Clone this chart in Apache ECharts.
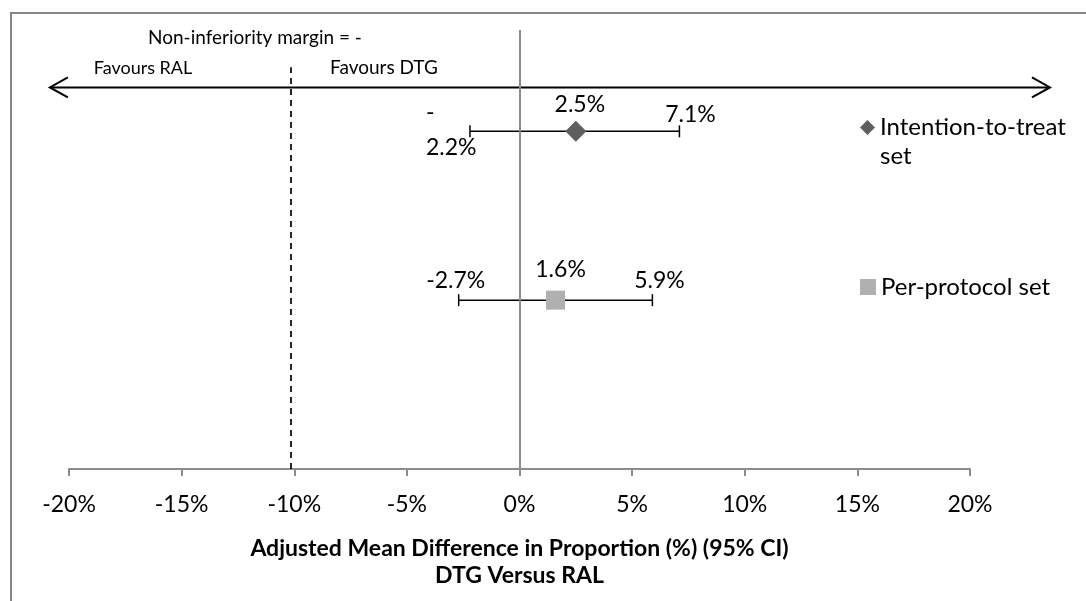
<!DOCTYPE html>
<html>
<head>
<meta charset="utf-8">
<script src="https://cdn.jsdelivr.net/npm/echarts@6/dist/echarts.min.js"></script>
<style>
html,body{margin:0;padding:0;background:#fff;}
#chart{width:1086px;height:601px;}
</style>
</head>
<body>
<div id="chart"></div>
<script>
// ---- data ----
const seriesNames = ['Intention-to-treat set', 'Per-protocol set'];
const rowPos = [2, 1];                 // vertical row of each estimate
const estimates = [2.5, 1.6];          // adjusted mean difference (%)
const ciLow = [-2.2, -2.7];            // lower 95% CI
const ciHigh = [7.1, 5.9];             // upper 95% CI
const xTicks = [-20, -15, -10, -5, 0, 5, 10, 15, 20];
const marginValue = -10.15;            // non-inferiority margin line position

const FONT = 'Lato';
const chart = echarts.init(document.getElementById('chart'), null, {renderer: 'canvas'});

const ciData = rowPos.map((r, i) => [r, ciLow[i], ciHigh[i], i]);

// per-row label placement (px) mimicking reference
const lowLab = [{dx: -44, dy: -1, align: 'left'}, {dx: -3, dy: -20, align: 'center'}];
const highLab = [{dx: 11, dy: -17}, {dx: 7, dy: -20}];
const estOff = [[4, -27], [5, -31]];
const LABEL_SIZE = 23;

function fmt(v) { return v.toFixed(1) + '%'; }

const option = {
  animation: false,
  backgroundColor: '#fff',
  grid: {left: 69, right: 116, top: 30, bottom: 132},
  xAxis: {
    type: 'value', min: xTicks[0], max: xTicks[xTicks.length - 1], interval: 5,
    axisLine: {show: true, lineStyle: {color: '#8c8c8c', width: 2}},
    axisTick: {show: true, length: 7, lineStyle: {color: '#8c8c8c', width: 2}},
    splitLine: {show: false},
    axisLabel: {formatter: v => v + '%', color: '#000', fontFamily: FONT, fontSize: 23, margin: 24},
    name: 'Adjusted Mean Difference in Proportion (%) (95% CI)\nDTG Versus RAL',
    nameLocation: 'middle', nameGap: 66,
    nameTextStyle: {fontFamily: FONT, fontWeight: 'bold', fontSize: 23, color: '#000', lineHeight: 27}
  },
  yAxis: {type: 'value', min: 0, max: 2.6, show: false},
  legend: [
    {
      left: 855, top: 79, itemWidth: 15, itemHeight: 15, itemGap: 0, padding: 5,
      textStyle: {fontFamily: FONT, fontSize: 24, color: '#000', lineHeight: 29},
      formatter: n => '\n' + n.replace(' set', '\nset'),
      data: [{name: seriesNames[0], icon: 'diamond'}]
    },
    {
      left: 855, top: 267, itemWidth: 16, itemHeight: 16, padding: 5,
      textStyle: {fontFamily: FONT, fontSize: 24, color: '#000', lineHeight: 30},
      data: [{name: seriesNames[1], icon: 'rect'}]
    }
  ],
  series: [
    {
      type: 'custom', name: 'ci', silent: true, z: 3,
      data: ciData,
      encode: {x: [1, 2], y: 0},
      renderItem: function (params, api) {
        const y = api.value(0), lo = api.value(1), hi = api.value(2), i = api.value(3);
        const p1 = api.coord([lo, y]), p2 = api.coord([hi, y]);
        const st = {stroke: '#000', lineWidth: 1.5};
        const lowText = i === 0 ? '-\n' + fmt(Math.abs(lo)) : fmt(lo);
        const ts = (t, x, yy, al) => ({type: 'text', style: {text: t, x: x, y: yy, align: al || 'center', verticalAlign: 'middle', font: LABEL_SIZE + 'px ' + FONT, fill: '#000', lineHeight: 35}});
        return {
          type: 'group',
          children: [
            {type: 'line', shape: {x1: p1[0], y1: p1[1], x2: p2[0], y2: p2[1]}, style: st},
            {type: 'line', shape: {x1: p1[0], y1: p1[1] - 6, x2: p1[0], y2: p1[1] + 6}, style: st},
            {type: 'line', shape: {x1: p2[0], y1: p2[1] - 6, x2: p2[0], y2: p2[1] + 6}, style: st},
            ts(lowText, p1[0] + lowLab[i].dx, p1[1] + lowLab[i].dy, lowLab[i].align),
            ts(fmt(hi), p2[0] + highLab[i].dx, p2[1] + highLab[i].dy)
          ]
        };
      },
      markLine: {
        silent: true, symbol: 'none', label: {show: false},
        data: [
          [{coord: [0, 0]}, {coord: [0, 2.6]}],
        ],
        lineStyle: {color: '#8c8c8c', width: 2, type: 'solid'}
      }
    },
    {
      type: 'scatter', name: seriesNames[0], symbol: 'diamond', symbolSize: 21, z: 5,
      itemStyle: {color: '#5f5f5f', opacity: 1},
      data: [[estimates[0], rowPos[0]]],
      label: {show: true, formatter: p => fmt(p.value[0]), position: 'inside', offset: estOff[0], color: '#000', fontFamily: FONT, fontSize: LABEL_SIZE},
      markLine: {
        silent: true, symbol: 'none', label: {show: false},
        data: [[{coord: [marginValue, 0]}, {coord: [marginValue, 2.38]}]],
        lineStyle: {color: '#000', width: 1.7, type: [6, 5]}
      }
    },
    {
      type: 'scatter', name: seriesNames[1], symbol: 'rect', symbolSize: 19, z: 5,
      itemStyle: {color: '#b0b0b0', opacity: 1},
      data: [[estimates[1], rowPos[1]]],
      label: {show: true, formatter: p => fmt(p.value[0]), position: 'inside', offset: estOff[1], color: '#000', fontFamily: FONT, fontSize: LABEL_SIZE}
    }
  ]
};
chart.setOption(option);

// annotations: double arrow, text labels, border
const arrowY = 2.26;
const yA = chart.convertToPixel({gridIndex: 0}, [0, arrowY])[1];
const xL = chart.convertToPixel({gridIndex: 0}, [-20.85, 0])[0];
const xR = chart.convertToPixel({gridIndex: 0}, [23.55, 0])[0];
const ast = {stroke: '#000', lineWidth: 2, fill: null};
chart.setOption({
  graphic: [
    {type: 'rect', shape: {x: 11, y: 13, width: 1200, height: 800}, style: {stroke: '#878787', lineWidth: 2, fill: null}, silent: true},
    {type: 'line', shape: {x1: xL, y1: yA, x2: xR, y2: yA}, style: ast},
    {type: 'polyline', shape: {points: [[xL + 18, yA - 10], [xL, yA], [xL + 18, yA + 10]]}, style: ast},
    {type: 'polyline', shape: {points: [[xR - 18, yA - 10], [xR, yA], [xR - 18, yA + 10]]}, style: ast},
    {type: 'text', style: {text: 'Non-inferiority margin = -', x: 148, y: 38, align: 'left', verticalAlign: 'middle', font: '19px ' + FONT, fill: '#000'}},
    {type: 'text', style: {text: 'Favours RAL', x: 143, y: 68, align: 'center', verticalAlign: 'middle', font: '18px ' + FONT, fill: '#000'}},
    {type: 'text', style: {text: 'Favours DTG', x: 330, y: 68, align: 'left', verticalAlign: 'middle', font: '19px ' + FONT, fill: '#000'}}
  ]
});
</script>
</body>
</html>
